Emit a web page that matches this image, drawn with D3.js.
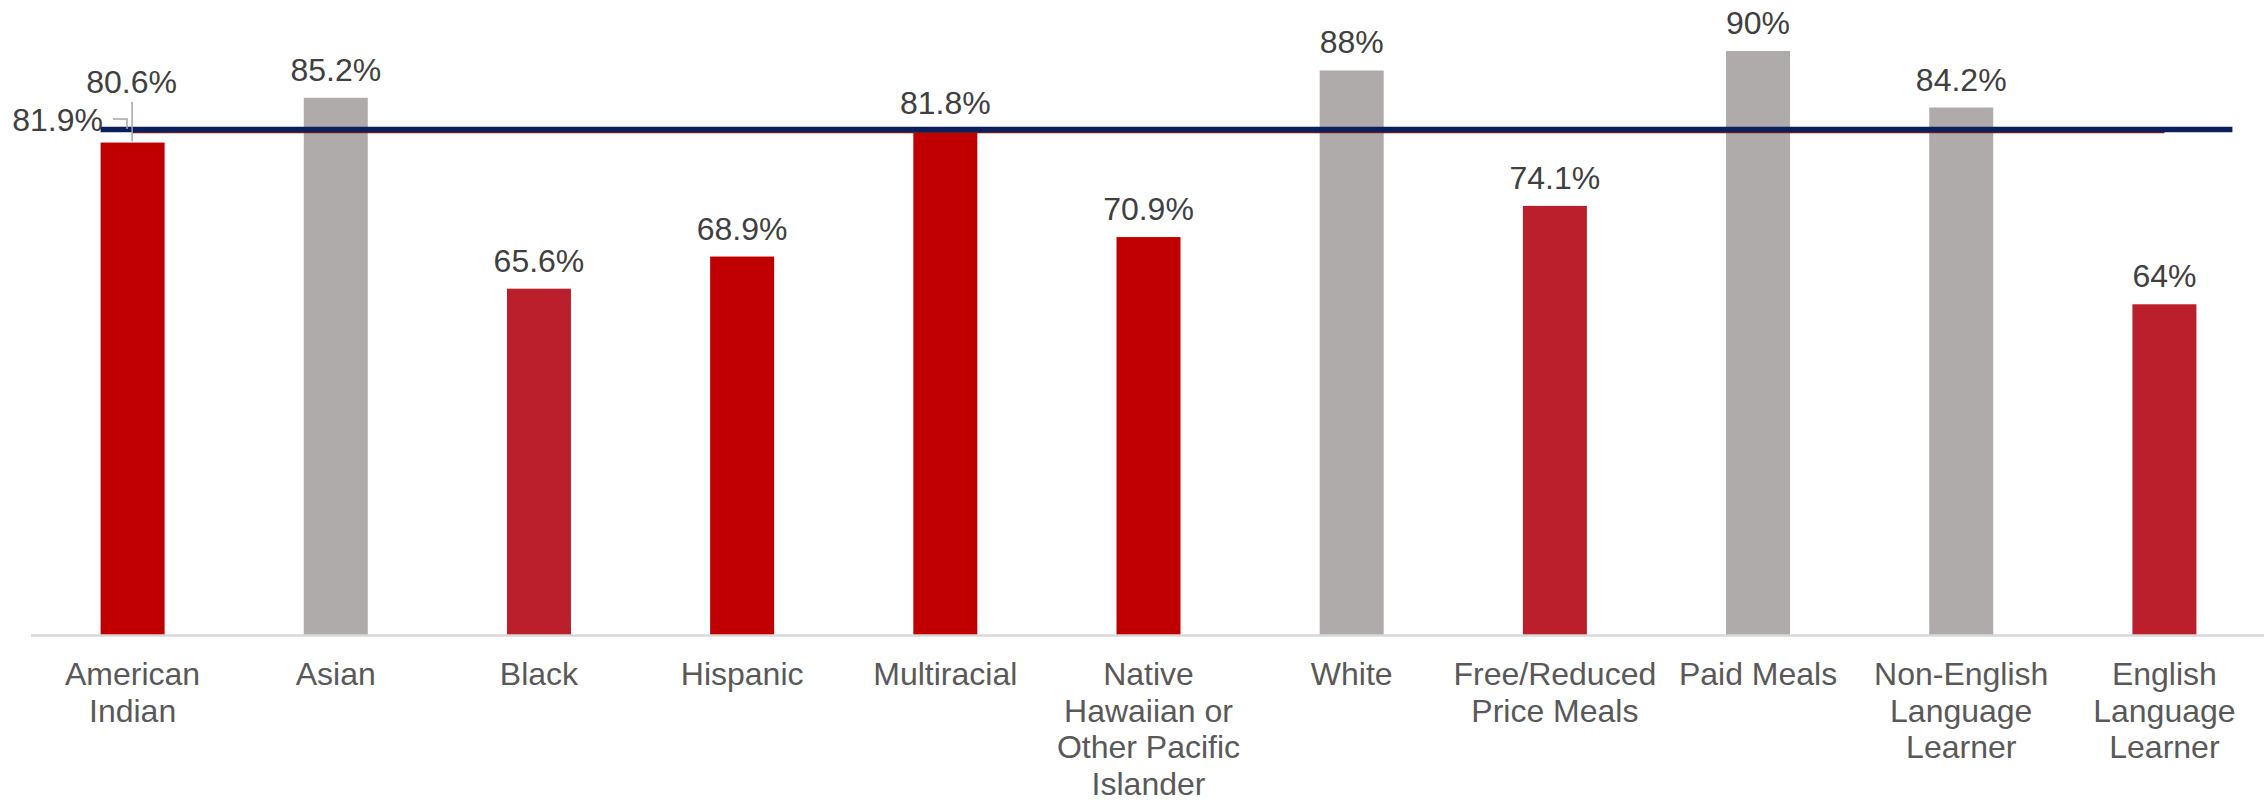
<!DOCTYPE html>
<html>
<head>
<meta charset="utf-8">
<script src="https://cdn.jsdelivr.net/npm/d3@7"></script>
<style>
  html, body { margin: 0; padding: 0; background: #ffffff; }
  svg { display: block; }
  text { font-family: "Liberation Sans", Arial, sans-serif; }
</style>
</head>
<body>
<svg id="chart" width="2264" height="801"></svg>
<script>
// ---- data ----
const categories = [
  ["American", "Indian"],
  ["Asian"],
  ["Black"],
  ["Hispanic"],
  ["Multiracial"],
  ["Native", "Hawaiian or", "Other Pacific", "Islander"],
  ["White"],
  ["Free/Reduced", "Price Meals"],
  ["Paid Meals"],
  ["Non-English", "Language", "Learner"],
  ["English", "Language", "Learner"]
];
const values = [80.6, 85.2, 65.6, 68.9, 81.8, 70.9, 88, 74.1, 90, 84.2, 64];
const valueLabels = ["80.6%", "85.2%", "65.6%", "68.9%", "81.8%", "70.9%", "88%", "74.1%", "90%", "84.2%", "64%"];
const groups = ["red", "gray", "crimson", "red", "red", "red", "gray", "crimson", "gray", "gray", "crimson"];
const stateAverage = 81.9;
const stateAverageLabel = "81.9%";

// ---- styles ----
const palette = { red: "#C00000", crimson: "#BC1F2C", gray: "#AFABAB" };
const labelColor = "#404040";
const axisColor = "#595959";

const svg = d3.select("#chart");
const keys = categories.map(c => c.join(" "));

const x = d3.scaleBand().domain(keys).range([31, 2266]).paddingInner(0.685).paddingOuter(0.3425);
const y = d3.scaleLinear().domain([30, 90]).range([635.5, 51]);

// bars
svg.append("g").selectAll("rect")
  .data(values)
  .join("rect")
  .attr("x", (d, i) => x(keys[i]))
  .attr("y", d => y(d))
  .attr("width", x.bandwidth())
  .attr("height", d => y(30) - y(d))
  .attr("fill", (d, i) => palette[groups[i]]);

// baseline
svg.append("line")
  .attr("x1", 31).attr("x2", 2264)
  .attr("y1", y(30)).attr("y2", y(30))
  .attr("stroke", "#D9D9D9").attr("stroke-width", 2.5);

// state average line (thin red under navy)
const cx = k => x(k) + x.bandwidth() / 2;
svg.append("line")
  .attr("x1", cx(keys[0])).attr("x2", cx(keys[keys.length - 1]))
  .attr("y1", y(stateAverage) + 2).attr("y2", y(stateAverage) + 2)
  .attr("stroke", "#8B1A1A").attr("stroke-width", 2.5);
svg.append("line")
  .attr("x1", x(keys[0])).attr("x2", x(keys[keys.length - 1]) + x.bandwidth() + 36)
  .attr("y1", y(stateAverage) - 0.5).attr("y2", y(stateAverage) - 0.5)
  .attr("stroke", "#0B1F5C").attr("stroke-width", 5.5);

// value labels
svg.append("g").selectAll("text")
  .data(values)
  .join("text")
  .attr("x", (d, i) => cx(keys[i]) + (i === 0 ? -1 : 0))
  .attr("y", (d, i) => i === 0 ? 93 : y(d) - 17)
  .attr("text-anchor", "middle")
  .attr("font-size", 32)
  .attr("fill", labelColor)
  .text((d, i) => valueLabels[i]);

// leader line for first label
svg.append("line")
  .attr("x1", cx(keys[0]) - 0.5).attr("x2", cx(keys[0]) - 0.5)
  .attr("y1", 102).attr("y2", y(values[0]) - 1)
  .attr("stroke", "#A6A6A6").attr("stroke-width", 1.5);

// state average label + leader
svg.append("text")
  .attr("x", 103).attr("y", 131)
  .attr("text-anchor", "end")
  .attr("font-size", 32)
  .attr("fill", labelColor)
  .text(stateAverageLabel);
svg.append("path")
  .attr("d", `M113,119 H127 V${y(stateAverage) - 1}`)
  .attr("fill", "none")
  .attr("stroke", "#A6A6A6").attr("stroke-width", 1.5);

// category labels
const cat = svg.append("g").selectAll("text")
  .data(categories)
  .join("text")
  .attr("x", (d, i) => cx(keys[i]))
  .attr("y", 685)
  .attr("text-anchor", "middle")
  .attr("font-size", 32)
  .attr("fill", axisColor);
cat.selectAll("tspan")
  .data(d => d)
  .join("tspan")
  .attr("x", function () { return d3.select(this.parentNode).attr("x"); })
  .attr("dy", (d, j) => j === 0 ? 0 : 36.5)
  .text(d => d);
</script>
</body>
</html>
